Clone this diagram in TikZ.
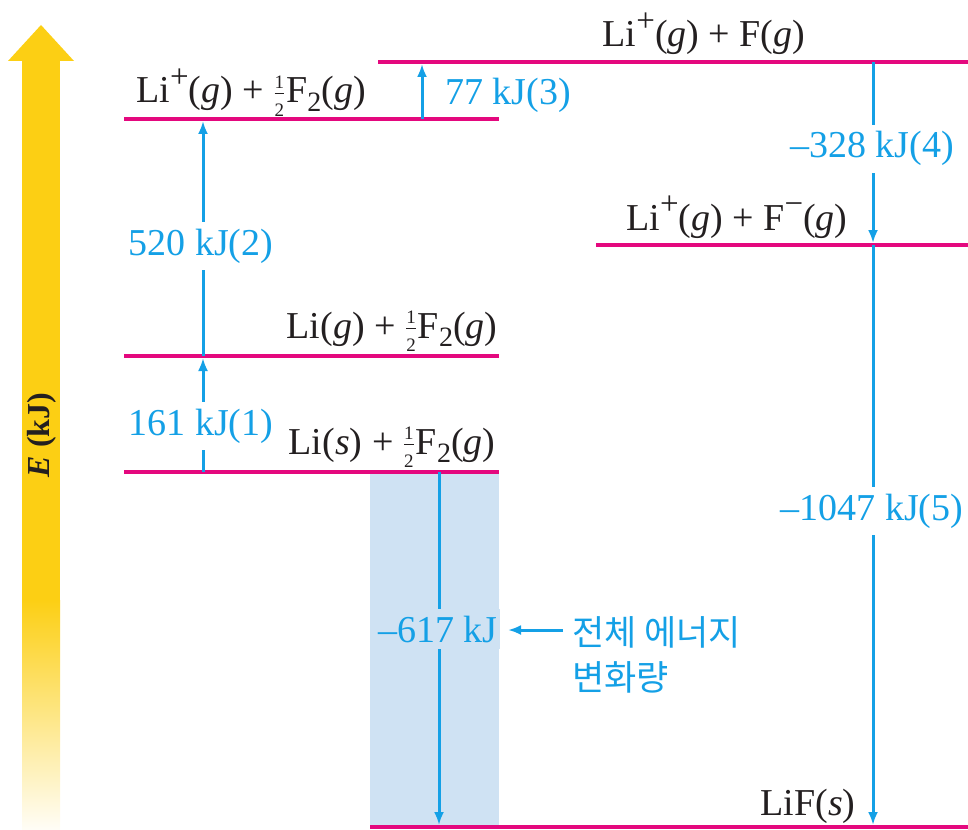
\RequirePackage{fix-cm}
\documentclass[tikz,border=0pt]{standalone}
\usepackage{amsmath}
\usepackage{fontspec}
\setmainfont{Liberation Serif}
\newfontfamily\krfont{Noto Sans CJK KR}
\usetikzlibrary{arrows.meta}
\definecolor{lvlc}{HTML}{E4087E}
\definecolor{arrc}{HTML}{14A0E6}
\definecolor{txtc}{HTML}{231F20}
\definecolor{boxc}{HTML}{CFE2F3}
\definecolor{yel}{HTML}{FCCF14}
\newcommand\halfF{\ensuremath{\frac{\scriptscriptstyle\text{1}}{\scriptscriptstyle\text{2}}}\kern1pt}
\newcommand\supp[1]{\raisebox{0.4em}{\fontsize{33}{33}\selectfont #1}}
\newcommand\subb[1]{\raisebox{-0.22em}{\fontsize{28}{28}\selectfont #1}}
\begin{document}
\begin{tikzpicture}[x=1pt,y=-1pt,
  lvl/.style={draw=lvlc, line width=4pt},
  en/.style={draw=arrc, line width=3pt, -{Latex[length=13pt,width=10pt]}},
  spec/.style={text=txtc, font=\fontsize{38}{44}\selectfont, inner sep=0pt, anchor=base},
  val/.style={text=arrc, font=\fontsize{38}{44}\selectfont, fill=white, inner xsep=2pt, inner ysep=7pt, anchor=base},
  kr/.style={text=arrc, font=\krfont\fontsize{35}{42}\selectfont, inner sep=0pt, anchor=base west}]
\useasboundingbox (0,0) rectangle (968,829);
% energy axis
\fill[yel] (22,60) rectangle (60,601);
\shade[top color=yel, bottom color=yel!4!white] (22,600) rectangle (60,829);
\fill[yel] (8,61) -- (41,25) -- (74,61) -- cycle;
\node[rotate=90, text=txtc, font=\fontsize{32}{38}\selectfont\bfseries, inner sep=0pt] (axis) at (42,435) {\textit{E} (kJ)};
% total change box
\fill[boxc] (370,472) rectangle (499,827);
% levels
\coordinate (L1a) at (378,62);  \coordinate (L1b) at (968,62);
\coordinate (L2a) at (124,119); \coordinate (L2b) at (499,119);
\coordinate (L3a) at (596,245); \coordinate (L3b) at (968,245);
\coordinate (L4a) at (124,356); \coordinate (L4b) at (499,356);
\coordinate (L5a) at (124,472); \coordinate (L5b) at (499,472);
\coordinate (L6a) at (370,827); \coordinate (L6b) at (968,827);
\foreach \i in {1,...,6} {\draw[lvl] (L\i a) -- (L\i b);}
% arrow ends
\coordinate (a1s) at (203,472); \coordinate (a1e) at (203,358);
\coordinate (a2s) at (203,356); \coordinate (a2e) at (203,121);
\coordinate (a3s) at (422,119); \coordinate (a3e) at (422,64);
\coordinate (a4s) at (873,62);  \coordinate (a4e) at (873,243);
\coordinate (a5s) at (873,245); \coordinate (a5e) at (873,825);
\coordinate (a6s) at (439,472); \coordinate (a6e) at (439,825);
\coordinate (k1) at (563,630);  \coordinate (k2) at (508,630);
\draw[en] (a1s) -- (a1e);
\draw[en] (a2s) -- (a2e);
\draw[en] (a3s) -- (a3e);
\draw[en] (a4s) -- (a4e);
\draw[en] (a5s) -- (a5e);
\draw[en] (a6s) -- (a6e);
\draw[en] (k1) -- (k2);
% species labels
\node[spec] (t1) at (704,47) {Li\supp{+}(\textit{g}) + F(\textit{g})};
\node[spec] (t2) at (251,103) {Li\supp{+}(\textit{g}) + \halfF F\subb{2}(\textit{g})};
\node[spec] (t3) at (737,230) {Li\supp{+}(\textit{g}) + F\supp{−}(\textit{g})};
\node[spec] (t4) at (392,338) {Li(\textit{g}) + \halfF F\subb{2}(\textit{g})};
\node[spec] (t5) at (392,454) {Li(\textit{s}) + \halfF F\subb{2}(\textit{g})};
\node[spec] (t6) at (808,815) {LiF(\textit{s})};
% energy values
\node[val, anchor=base west, fill=none] (v3) at (443,105) {77 kJ(3)};
\node[val] (v4) at (872,158) {--328 kJ(4)};
\node[val] (v2) at (201,255) {520 kJ(2)};
\node[val] (v1) at (201,435) {161 kJ(1)};
\node[val] (v5) at (872,520) {--1047 kJ(5)};
\node[val, fill=boxc] (v6) at (438,642) {--617 kJ};
\node[kr] (kt1) at (572,645) {전체 에너지};
\node[kr] (kt2) at (572,690) {변화량};
\end{tikzpicture}
\end{document}
